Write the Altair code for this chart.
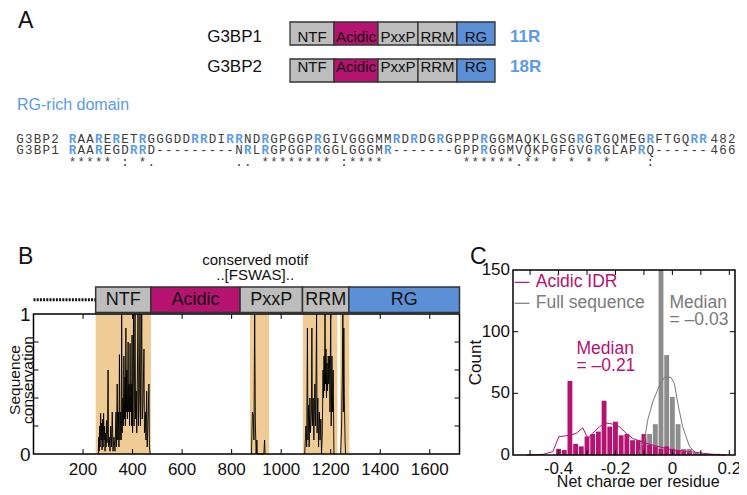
import altair as alt
import pandas as pd

SANS = "Liberation Sans"
MONO = "Liberation Mono"
MAGENTA = "#b5136f"
GRAY_BOX = "#bdbdbd"
BLUE_BOX = "#5b8fd6"
BLUE_TXT = "#5b9be8"
ORANGE = "#efcc96"
HIST_GRAY = "#8c8c8c"
LINE_GRAY = "#7a7a7a"

# ---------------- Panel A data ----------------
proteins = ["G3BP1", "G3BP2"]
arg_counts = ["11R", "18R"]
domain_labels = ["NTF", "Acidic", "PxxP", "RRM", "RG"]
schematic_lengths = [44, 44, 40, 39, 38]
domain_fill = [GRAY_BOX, MAGENTA, GRAY_BOX, GRAY_BOX, BLUE_BOX]

aln_names = ["G3BP2", "G3BP1"]
aln_seqs = [
    "RAARERETRGGGDDRRDIRRNDRGPGGPRGIVGGGMMRDRDGRGPPPRGGMAQKLGSGRGTGQMEGRFTGQRR",
    "RAAREGDRRD---------NRLRGPGGPRGGLGGGMR-------GPPRGGMVQKPGFGVGRGLAPRQ------",
]
aln_ends = ["482", "466"]
aln_consensus = ("***** : *." + " " * 9 + ".. ********" + " :****" + " " * 9
                 + "******.** * * * *" + "    :" + " " * 6)

# ---------------- Panel B data ----------------
b_domain_start = [251, 474, 834, 1086, 1273]
b_domain_end = [474, 834, 1086, 1273, 1720]
cons_region_start = [251, 874, 1087, 1238]
cons_region_end = [474, 951, 1227, 1275]

cons_ntf_pos = [262, 263, 265, 267, 269, 271, 273, 275, 277, 279,
                281, 283, 285, 287, 289, 291, 293, 295, 297, 299,
                301, 303, 306, 309, 312, 315, 318, 321, 325, 329,
                333, 335, 338, 340, 343, 345, 347, 349, 352, 354,
                356, 358, 361, 363, 365, 367, 370, 371, 373, 375,
                377, 379, 382, 384, 386, 388, 390, 392, 395, 396,
                398, 400, 404, 406, 410, 412, 415, 417, 422, 424,
                427, 430, 432, 437, 439, 442, 446, 448, 452, 454,
                457, 459, 462, 466, 468, 471]
cons_ntf_val = [0, 0.12, 0.02, 0.2, 0.05, 0.29, 0.1, 0.22, 0.03, 0.25,
                0.05, 0.29, 0.1, 0.2, 0.02, 0.15, 0.05, 0.24, 0.08, 0.18,
                0.6, 0.05, 0.12, 0.02, 0.2, 0.05, 0.3, 0.02, 0.12, 0.02,
                0.3, 0.05, 0.5, 0.1, 0.3, 0.05, 0.71, 0.1, 0.3, 0.1,
                1.0, 0.15, 0.4, 0.2, 0.7, 0.25, 0.55, 0.2, 0.9, 0.3,
                0.6, 0.25, 0.8, 0.3, 0.5, 0.2, 0.79, 0.3, 0.5, 0.2,
                0.85, 0.15, 1.0, 0.2, 1.0, 0.25, 0.45, 0.15, 1.0, 0.2,
                0.4, 1.0, 0.2, 1.0, 0.25, 0.35, 0.75, 0.15, 0.3, 0.1,
                0.45, 0.05, 0.2, 0.5, 0.05, 0]
cons_pxxp_pos = [880, 884, 887, 890, 893, 896, 899, 902, 904, 930, 933, 935]
cons_pxxp_val = [0, 0.3, 0.28, 0.1, 1.0, 0.2, 0, 0.1, 0, 0, 0.1, 0]
cons_rrm_pos = [1095, 1100, 1103, 1106, 1108, 1111, 1113, 1116, 1118, 1122,
                1124, 1126, 1129, 1132, 1136, 1139, 1143, 1145, 1148, 1151,
                1154, 1157, 1160, 1163, 1166, 1169, 1171, 1173, 1175, 1177,
                1179, 1181, 1183, 1185, 1187, 1190, 1192, 1195, 1197, 1200,
                1202, 1205, 1207, 1210, 1213, 1218]
cons_rrm_val = [0, 0.2, 0.05, 0.9, 0.1, 0.35, 0.05, 0.4, 0.15, 0.3,
                0.9, 0.2, 0.4, 0.1, 0.5, 0.2, 1.0, 0.15, 0.4, 0.05,
                0.3, 0.1, 0.25, 0, 0.15, 0.6, 0.4, 0.7, 0.45, 1.0,
                0.5, 0.75, 0.4, 0.65, 0.45, 0.7, 0.5, 0.7, 0.3, 1.0,
                0.2, 0.7, 0.3, 0.6, 0, 0]
cons_rrm2_pos = [1240, 1244, 1247, 1249, 1251, 1253, 1255, 1258, 1260]
cons_rrm2_val = [0, 0.2, 0.6, 1.0, 0.3, 0.9, 0.4, 0.1, 0]

b_xticks = [200, 400, 600, 800, 1000, 1200, 1400, 1600]
b_yticks = [0.2, 0.4, 0.6, 0.8]
b_ylabels = [0, 1]
b_xrange = [0, 1720]

# ---------------- Panel C data ----------------
acidic_centers = [-0.40, -0.38, -0.36, -0.34, -0.32, -0.30, -0.28, -0.26, -0.24, -0.22,
                  -0.20, -0.18, -0.16, -0.14, -0.12, -0.10, -0.08, -0.06, -0.04, -0.02,
                  0.00, 0.02, 0.04, 0.06, 0.08]
acidic_counts = [5, 4, 60, 9, 7, 15, 17, 19, 44, 23,
                 27, 16, 17, 12, 12, 17, 8, 7, 5, 7,
                 5, 4, 3, 2, 1]
full_centers = [-0.10, -0.08, -0.06, -0.04, -0.02, 0.00, 0.02, 0.04, 0.06, 0.08,
                0.10, 0.12, 0.14, 0.16]
full_counts = [12, 17, 25, 170, 81, 47, 25, 5, 5, 2, 1, 1, 1, 1]
acidic_curve_x = [-0.513, -0.455, -0.42, -0.399, -0.361, -0.338, -0.315, -0.297, -0.28,
                  -0.256, -0.233, -0.209, -0.186, -0.162, -0.139, -0.092, -0.046, 0.001,
                  0.048, 0.095, 0.141, 0.188]
acidic_curve_y = [0, 0.5, 2.7, 14.8, 16, 17.5, 22, 13.4, 17.5,
                  23, 26, 25, 23, 17.5, 13.4, 9.4, 6.7, 4,
                  3.2, 1.9, 0.5, 0]
full_curve_x = [-0.122, -0.098, -0.087, -0.069, -0.046, -0.028, -0.005, 0.007, 0.019,
                0.036, 0.060, 0.083, 0.118]
full_curve_y = [0, 12, 28, 43, 56, 63, 63, 58, 42, 23, 7, 1.3, 0]
c_xticks = [-0.5, -0.4, -0.3, -0.2, -0.1, 0.0, 0.1, 0.2]
c_xlabels = [-0.4, -0.2, 0.0, 0.2]
c_xlabel_text = ["-0.4", "-0.2", "0", "0.2"]
c_yticks = [50, 100]
c_ylabels = [0, 50, 100, 150]
c_xrange = [-0.56, 0.22]
c_yrange = [0, 150]
legend_names = ["Acidic IDR", "Full sequence"]
legend_colors = [MAGENTA, LINE_GRAY]

# ---------------- scales (layout) ----------------
xA = alt.Scale(domain=[0, sum(schematic_lengths)], range=[282, 487])
yA = alt.Scale(domain=proteins, range=[14, 74], paddingInner=0.378, paddingOuter=0)
PITCH = 8.755
xAl = alt.Scale(domain=[0, 80], range=[12.0, 12.0 + 80 * PITCH])
yAl = alt.Scale(domain=[0, 2], range=[135, 157.5])

xB = alt.Scale(domain=b_xrange, range=[25.5, 451.5])
yB = alt.Scale(domain=[0, 1], range=[446, 306])
yBar = alt.Scale(domain=["track"], range=[279, 304.5], paddingInner=0, paddingOuter=0)
yBarPt = alt.Scale(type="point", domain=["track"], range=[279, 304.5], padding=0.5)

xC = alt.Scale(domain=c_xrange, range=[505, 727])
yC = alt.Scale(domain=c_yrange, range=[447, 262], clamp=True)


def Q(field, scale):
    return alt.X(field, type="quantitative", scale=scale, axis=None)


def QY(field, scale):
    return alt.Y(field, type="quantitative", scale=scale, axis=None)


layers = []

# ================= Panel A =================
rowsA = []
for p in proteins:
    s = 0
    for lab, ln, col in zip(domain_labels, schematic_lengths, domain_fill):
        rowsA.append(dict(protein=p, dom=lab, start=s, end=s + ln, fill=col))
        s += ln
dfA = pd.DataFrame(rowsA)

layers.append(alt.Chart(dfA).mark_rect(stroke="#333333", strokeWidth=1.3).encode(
    x=Q("start", xA), x2="end", y=alt.Y("protein:N", scale=yA, axis=None),
    fill=alt.Fill("fill:N", scale=None)))
layers.append(alt.Chart(dfA).transform_calculate(mid="(datum.start+datum.end)/2").mark_text(
    font=SANS, fontSize=15, color="#111111").encode(
    x=Q("mid", xA), y=alt.Y("protein:N", scale=yA, axis=None), text="dom:N"))

dfNames = pd.DataFrame({"protein": proteins, "cnt": arg_counts, "x0": 0,
                        "x1": sum(schematic_lengths)})
layers.append(alt.Chart(dfNames).mark_text(font=SANS, fontSize=17, align="right", dx=-28,
                                           color="#111111").encode(
    x=Q("x0", xA), y=alt.Y("protein:N", scale=yA, axis=None), text="protein:N"))
layers.append(alt.Chart(dfNames).mark_text(font=SANS, fontSize=17, fontWeight="bold",
                                           align="left", dx=15, color=BLUE_TXT).encode(
    x=Q("x1", xA), y=alt.Y("protein:N", scale=yA, axis=None), text="cnt:N"))

# alignment (one text mark per character, placed on a column scale)
lines = [n + " " + s for n, s in zip(aln_names, aln_seqs)] + [" " * 6 + aln_consensus]
chars = []
for r, line in enumerate(lines):
    for c, ch in enumerate(line):
        if ch != " ":
            chars.append(dict(row=r, col=c, ch=ch, isR=bool(ch == "R" and c >= 6)))
    if r < len(aln_ends):
        for k, ch in enumerate(aln_ends[r]):
            chars.append(dict(row=r, col=len(line) + 0.3 + k, ch=ch, isR=False))
dfC = pd.DataFrame(chars)
layers.append(alt.Chart(dfC).transform_filter("!datum.isR").mark_text(
    font=MONO, fontSize=12.5, baseline="alphabetic", color="#3c3c3c").encode(
    x=Q("col", xAl), y=QY("row", yAl), text="ch:N"))
layers.append(alt.Chart(dfC).transform_filter("datum.isR").mark_text(
    font=MONO, fontSize=12.5, fontWeight="bold", baseline="alphabetic", color=BLUE_TXT).encode(
    x=Q("col", xAl), y=QY("row", yAl), text="ch:N"))

# panel letters / headings
letters = ["A", "B", "C"]
letter_px = [10, 10, 462]
letter_py = [20, 256, 256]
for t, px, py in zip(letters, letter_px, letter_py):
    layers.append(alt.Chart(pd.DataFrame({"t": [t]})).mark_text(
        font=SANS, fontSize=23, align="left", baseline="alphabetic", color="#111111").encode(
        x=alt.value(px), y=alt.value(py), text="t:N"))
layers.append(alt.Chart(pd.DataFrame({"t": ["RG-rich domain"]})).mark_text(
    font=SANS, fontSize=16, align="left", color=BLUE_TXT).encode(
    x=alt.value(9), y=alt.value(97), text="t:N"))

# ================= Panel B =================
dfShade = pd.DataFrame({"s": cons_region_start, "e": cons_region_end, "y0": 0, "y1": 1})
layers.append(alt.Chart(dfShade).mark_rect(color=ORANGE).encode(
    x=Q("s", xB), x2="e", y=QY("y0", yB), y2="y1"))

cons_rows = []
for seg, (ps, vs) in enumerate([(cons_ntf_pos, cons_ntf_val), (cons_pxxp_pos, cons_pxxp_val),
                                (cons_rrm_pos, cons_rrm_val), (cons_rrm2_pos, cons_rrm2_val)]):
    assert len(ps) == len(vs)
    for p, v in zip(ps, vs):
        cons_rows.append(dict(seg=seg, pos=p, val=v))
dfCons = pd.DataFrame(cons_rows)
layers.append(alt.Chart(dfCons).mark_line(color="black", strokeWidth=0.9).encode(
    x=Q("pos", xB), y=QY("val", yB), detail="seg:N"))

dfBar = pd.DataFrame({"dom": domain_labels, "s": b_domain_start, "e": b_domain_end,
                      "fill": domain_fill, "track": "track"})
layers.append(alt.Chart(dfBar).mark_rect(stroke="#333333", strokeWidth=1.5).encode(
    x=Q("s", xB), x2="e", y=alt.Y("track:N", scale=yBar, axis=None),
    fill=alt.Fill("fill:N", scale=None)))
layers.append(alt.Chart(dfBar).transform_calculate(mid="(datum.s+datum.e)/2").mark_text(
    font=SANS, fontSize=18, color="#111111").encode(
    x=Q("mid", xB), y=alt.Y("track:N", scale=yBar, axis=None), text="dom:N"))
dfDot = pd.DataFrame({"s": [b_xrange[0]], "e": [b_domain_start[0]], "track": ["track"]})
layers.append(alt.Chart(dfDot).mark_rule(color="#111111", strokeWidth=3, strokeDash=[2, 1.2]).encode(
    x=Q("s", xB), x2="e", y=alt.Y("track:N", scale=yBarPt, axis=None)))

# conserved motif label (anchored at the conserved PxxP spike)
motif_text = ["conserved motif", "..[FSWAS].."]
motif_py = [252, 267]
for t, py in zip(motif_text, motif_py):
    layers.append(alt.Chart(pd.DataFrame({"pos": [895], "t": [t]})).mark_text(
        font=SANS, fontSize=15, color="#111111").encode(
        x=Q("pos", xB), y=alt.value(py), text="t:N"))

# frame + ticks + labels
dfFrameB = pd.DataFrame({"x0": [b_xrange[0]], "x1": [b_xrange[1]], "y0": [0], "y1": [1]})
layers.append(alt.Chart(dfFrameB).mark_rect(fillOpacity=0, stroke="black", strokeWidth=1.5).encode(
    x=Q("x0", xB), x2="x1", y=QY("y0", yB), y2="y1"))
tkB = pd.DataFrame({"t": b_xticks})
layers.append(alt.Chart(tkB).transform_calculate(a="0", b="0.035").mark_rule(
    color="black", strokeWidth=1).encode(x=Q("t", xB), y=QY("a", yB), y2="b"))
layers.append(alt.Chart(tkB).transform_calculate(a="1", b="0.965").mark_rule(
    color="black", strokeWidth=1).encode(x=Q("t", xB), y=QY("a", yB), y2="b"))
tkBy = pd.DataFrame({"t": b_yticks})
layers.append(alt.Chart(tkBy).transform_calculate(a=str(b_xrange[0]), b=str(b_xrange[0] + 20)).mark_rule(
    color="black", strokeWidth=1).encode(y=QY("t", yB), x=Q("a", xB), x2="b"))
layers.append(alt.Chart(tkBy).transform_calculate(a=str(b_xrange[1]), b=str(b_xrange[1] - 20)).mark_rule(
    color="black", strokeWidth=1).encode(y=QY("t", yB), x=Q("a", xB), x2="b"))
layers.append(alt.Chart(tkB).transform_calculate(y0="0", lab="''+datum.t").mark_text(
    font=SANS, fontSize=17, dy=16, color="#111111").encode(
    x=Q("t", xB), y=QY("y0", yB), text="lab:N"))
layers.append(alt.Chart(pd.DataFrame({"v": b_ylabels})).transform_calculate(
    x0=str(b_xrange[0]), lab="''+datum.v").mark_text(
    font=SANS, fontSize=19, align="right", dx=-3, dy=1, color="#111111").encode(
    x=Q("x0", xB), y=QY("v", yB), text="lab:N"))
# two-line rotated axis title: first line at the anchor, second line one lineHeight to the right
layers.append(alt.Chart(pd.DataFrame({"t": ["Sequence\nconservation"]})).mark_text(
    font=SANS, fontSize=15.5, angle=270, lineBreak="\n", lineHeight=13, color="#111111").encode(
    x=alt.value(6.5), y=alt.value(372), text="t:N"))

# ================= Panel C =================
dfFull = pd.DataFrame({"c": full_centers, "n": full_counts})
dfAcid = pd.DataFrame({"c": acidic_centers, "n": acidic_counts})
for df_, col in [(dfFull, HIST_GRAY), (dfAcid, MAGENTA)]:
    layers.append(alt.Chart(df_).transform_calculate(
        a="datum.c-0.0085", b="datum.c+0.0085", z="0").mark_rect(color=col).encode(
        x=Q("a", xC), x2="b", y=QY("n", yC), y2="z"))
dfCurveA = pd.DataFrame({"x": acidic_curve_x, "y": acidic_curve_y})
dfCurveF = pd.DataFrame({"x": full_curve_x, "y": full_curve_y})
layers.append(alt.Chart(dfCurveF).mark_line(color=LINE_GRAY, strokeWidth=1).encode(
    x=Q("x", xC), y=QY("y", yC)))
layers.append(alt.Chart(dfCurveA).mark_line(color=MAGENTA, strokeWidth=1).encode(
    x=Q("x", xC), y=QY("y", yC)))

dfFrameC = pd.DataFrame({"x0": [c_xrange[0]], "x1": [c_xrange[1]], "y0": [0], "y1": [150]})
layers.append(alt.Chart(dfFrameC).mark_rect(fillOpacity=0, stroke="black", strokeWidth=1.5).encode(
    x=Q("x0", xC), x2="x1", y=QY("y0", yC), y2="y1"))
tkC = pd.DataFrame({"t": c_xticks})
layers.append(alt.Chart(tkC).transform_calculate(a="0", b="4").mark_rule(
    color="black", strokeWidth=1).encode(x=Q("t", xC), y=QY("a", yC), y2="b"))
layers.append(alt.Chart(tkC).transform_calculate(a="150", b="146").mark_rule(
    color="black", strokeWidth=1).encode(x=Q("t", xC), y=QY("a", yC), y2="b"))
tkCy = pd.DataFrame({"t": c_yticks})
layers.append(alt.Chart(tkCy).transform_calculate(a=str(c_xrange[0]), b=str(c_xrange[0] + 0.018)).mark_rule(
    color="black", strokeWidth=1).encode(y=QY("t", yC), x=Q("a", xC), x2="b"))
layers.append(alt.Chart(tkCy).transform_calculate(a=str(c_xrange[1]), b=str(c_xrange[1] - 0.018)).mark_rule(
    color="black", strokeWidth=1).encode(y=QY("t", yC), x=Q("a", xC), x2="b"))
layers.append(alt.Chart(pd.DataFrame({"v": c_xlabels, "lab": c_xlabel_text})).transform_calculate(
    y0="0").mark_text(font=SANS, fontSize=17, dy=13.5, color="#111111").encode(
    x=Q("v", xC), y=QY("y0", yC), text="lab:N"))
layers.append(alt.Chart(pd.DataFrame({"v": c_ylabels})).transform_calculate(
    x0=str(c_xrange[0]), lab="''+datum.v").mark_text(
    font=SANS, fontSize=17, align="right", dx=-3, color="#111111").encode(
    x=Q("x0", xC), y=QY("v", yC), text="lab:N"))
layers.append(alt.Chart(pd.DataFrame({"t": ["Count"], "y": [75]})).mark_text(
    font=SANS, fontSize=17, angle=270, color="#111111").encode(
    x=alt.value(468), y=QY("y", yC), text="t:N"))
layers.append(alt.Chart(pd.DataFrame({"t": ["Net charge per residue"], "x": [-0.12], "y": [0]})).mark_text(
    font=SANS, fontSize=16, dy=27, color="#111111").encode(
    x=Q("x", xC), y=QY("y", yC), text="t:N"))

# legend
dfLeg = pd.DataFrame({"name": legend_names, "col": legend_colors, "y": [140, 123],
                      "x0": [-0.554, -0.554], "x1": [-0.502, -0.502], "xt": [-0.48, -0.48]})
layers.append(alt.Chart(dfLeg).mark_rule(strokeWidth=1.2).encode(
    x=Q("x0", xC), x2="x1", y=QY("y", yC), color=alt.Color("col:N", scale=None)))
layers.append(alt.Chart(dfLeg).mark_text(font=SANS, fontSize=17.5, align="left").encode(
    x=Q("xt", xC), y=QY("y", yC), text="name:N", color=alt.Color("col:N", scale=None)))

# medians
dfMed = pd.DataFrame({"t": ["Median\n= \u20130.21", "Median\n= \u20130.03"],
                      "x": [-0.337, -0.01], "y": [86, 123], "col": [MAGENTA, LINE_GRAY]})
layers.append(alt.Chart(dfMed).mark_text(font=SANS, fontSize=17.5, align="left", baseline="middle",
                                         lineBreak="\n", lineHeight=17).encode(
    x=Q("x", xC), y=QY("y", yC), text="t:N", color=alt.Color("col:N", scale=None)))

chart = alt.layer(*layers).resolve_scale(
    x="independent", y="independent", color="independent", fill="independent"
).properties(
    width=731, height=479, padding=0,
    autosize=alt.AutoSizeParams(type="none"),
    background="white",
).configure_view(strokeWidth=0)

chart.save("out.html", embed_options={"renderer": "svg", "actions": False})
